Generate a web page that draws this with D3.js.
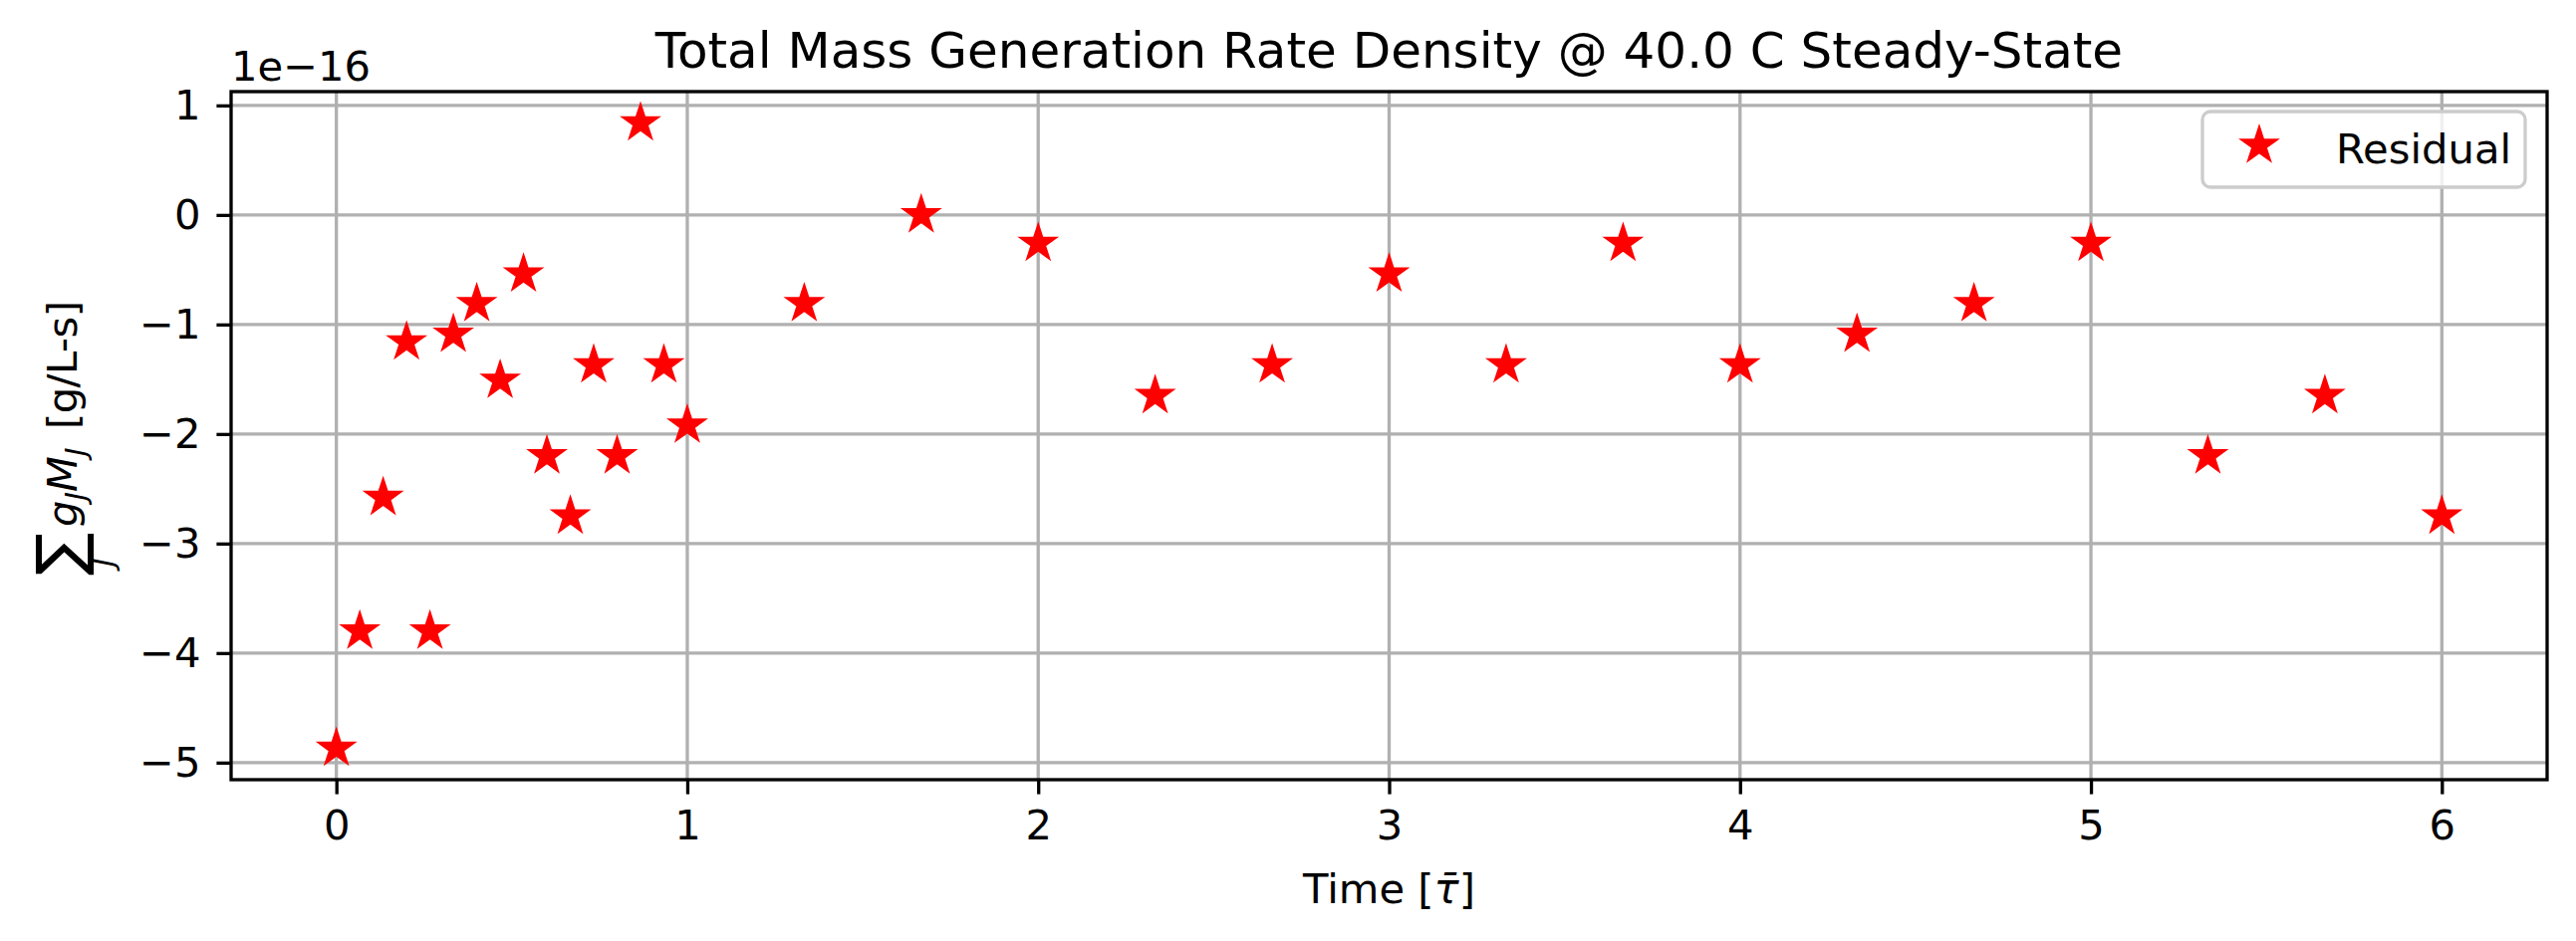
<!DOCTYPE html>
<html>
<head>
<meta charset="utf-8">
<script src="https://cdn.jsdelivr.net/npm/d3@7"></script>
<style>
  html, body { margin: 0; padding: 0; background: #fff; }
  svg { display: block; }
</style>
</head>
<body>
<div id="chart"></div>
<script>
// data (residual in units of 1e-16 g/L-s)
const times = [0, 0.0667, 0.1333, 0.2, 0.2667, 0.3333, 0.4, 0.4667, 0.5333, 0.6, 0.6667,
  0.7333, 0.8, 0.8667, 0.9333, 1.0, 1.3333, 1.6667, 2.0, 2.3333, 2.6667, 3.0, 3.3333,
  3.6667, 4.0, 4.3333, 4.6667, 5.0, 5.3333, 5.6667, 6.0];
const residual = [-4.87, -3.80, -2.58, -1.16, -3.80, -1.09, -0.81, -1.51, -0.54, -2.20, -2.75,
  -1.37, -2.20, 0.84, -1.37, -1.92, -0.81, 0.0, -0.26, -1.65, -1.37, -0.54, -1.37,
  -0.26, -1.37, -1.09, -0.81, -0.26, -2.20, -1.65, -2.75];
const xTicks = [0, 1, 2, 3, 4, 5, 6];
const yTicks = [-5, -4, -3, -2, -1, 0, 1];

const W = 2586, H = 945;
const font = "'DejaVu Sans', sans-serif";
const plot = { left: 232, right: 2557, top: 92, bottom: 783 };

const svg = d3.select('#chart').append('svg')
  .attr('width', W).attr('height', H);
svg.append('rect').attr('width', W).attr('height', H).attr('fill', '#fff');

const x = d3.scaleLinear().domain([-0.3, 6.3]).range([plot.left, plot.right]);
const y = d3.scaleLinear().domain([-5.156, 1.126]).range([plot.bottom, plot.top]);

const fmt = d => (d < 0 ? '\u2212' + Math.abs(d) : String(d));

// grid
const grid = svg.append('g').attr('stroke', '#b0b0b0').attr('stroke-width', 3.3);
grid.selectAll('.gx').data(xTicks).enter().append('line')
  .attr('x1', d => x(d)).attr('x2', d => x(d))
  .attr('y1', plot.top).attr('y2', plot.bottom);
grid.selectAll('.gy').data(yTicks).enter().append('line')
  .attr('x1', plot.left).attr('x2', plot.right)
  .attr('y1', d => y(d)).attr('y2', d => y(d));

// axes
const xAxis = svg.append('g').attr('transform', `translate(0,${plot.bottom})`)
  .call(d3.axisBottom(x).tickValues(xTicks).tickSize(14.6).tickPadding(16).tickFormat(fmt));
const yAxis = svg.append('g').attr('transform', `translate(${plot.left},0)`)
  .call(d3.axisLeft(y).tickValues(yTicks).tickSize(14.6).tickPadding(16).tickFormat(fmt));
[xAxis, yAxis].forEach(a => {
  a.select('.domain').remove();
  a.selectAll('.tick line').attr('stroke', '#000').attr('stroke-width', 3.3);
  a.selectAll('.tick text').attr('fill', '#000')
    .attr('font-family', font).attr('font-size', '41.7px');
});
xAxis.selectAll('.tick text').attr('dy', '0.71em');

// spines
svg.append('rect')
  .attr('x', plot.left).attr('y', plot.top)
  .attr('width', plot.right - plot.left).attr('height', plot.bottom - plot.top)
  .attr('fill', 'none').attr('stroke', '#000').attr('stroke-width', 3.3);

// markers
const star = d3.symbol().type(d3.symbolStar).size(300);
svg.append('g').selectAll('path').data(times).enter().append('path')
  .attr('d', star)
  .attr('transform', (d, i) => `translate(${x(d)},${y(residual[i])})`)
  .attr('fill', '#ff0000').attr('stroke', '#ff0000').attr('stroke-width', 3.5)
  .attr('stroke-linejoin', 'miter');

// offset text
svg.append('text').attr('x', plot.left).attr('y', 81)
  .attr('font-family', font).attr('font-size', '41.7px')
  .text('1e\u221216');

// title
svg.append('text').attr('x', (plot.left + plot.right) / 2).attr('y', 68)
  .attr('text-anchor', 'middle')
  .attr('font-family', font).attr('font-size', '50px')
  .text('Total Mass Generation Rate Density @ 40.0 C Steady-State');

// x label
const xl = svg.append('text').attr('x', (plot.left + plot.right) / 2).attr('y', 907)
  .attr('text-anchor', 'middle')
  .attr('font-family', font).attr('font-size', '41.7px');
xl.append('tspan').text('Time [');
xl.append('tspan').attr('font-style', 'italic').text('\u03C4\u0304');
xl.append('tspan').text(']');

// y label (rotated group; local x = -screenY, local y = screenX)
const yl = svg.append('g').attr('transform', 'rotate(-90)')
  .attr('font-family', font).attr('fill', '#000');
yl.append('text').attr('x', -578).attr('y', 82)
  .attr('font-size', '64px').text('\u2211');
yl.append('text').attr('x', -569).attr('y', 114)
  .attr('font-size', '29px').attr('font-style', 'italic').text('J');
const gm = yl.append('text').attr('x', -529).attr('y', 77).attr('font-size', '41.7px');
gm.append('tspan').attr('font-style', 'italic').text('g');
gm.append('tspan').attr('font-style', 'italic').attr('font-size', '29px').attr('dy', 9).text('J');
gm.append('tspan').attr('font-style', 'italic').attr('dy', -9).text('M');
gm.append('tspan').attr('font-style', 'italic').attr('font-size', '29px').attr('dy', 9).text('J');
yl.append('text').attr('x', -431).attr('y', 77).attr('font-size', '41.7px')
  .attr('textLength', 129).text('[g/L-s]');

// legend
const lg = svg.append('g');
lg.append('rect').attr('x', 2211).attr('y', 112).attr('width', 324).attr('height', 76)
  .attr('rx', 8).attr('fill', 'rgba(255,255,255,0.8)')
  .attr('stroke', '#cccccc').attr('stroke-width', 3.3);
lg.append('path').attr('d', star).attr('transform', 'translate(2268,146)')
  .attr('fill', '#ff0000').attr('stroke', '#ff0000').attr('stroke-width', 3.5);
lg.append('text').attr('x', 2345).attr('y', 164)
  .attr('font-family', font).attr('font-size', '41.7px').text('Residual');
</script>
</body>
</html>
